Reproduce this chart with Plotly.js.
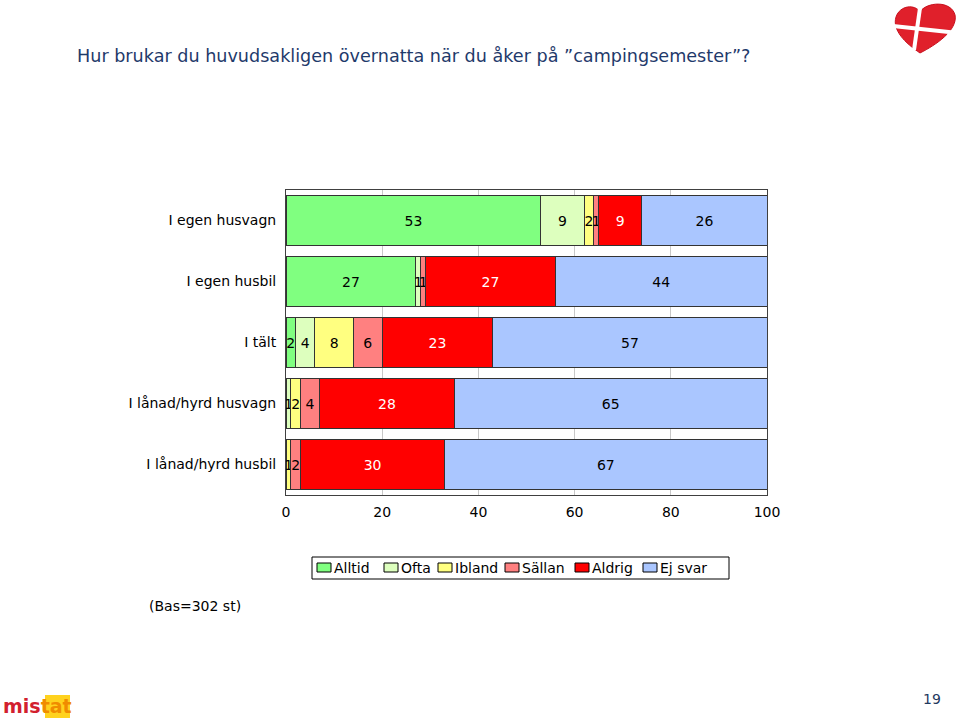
<!DOCTYPE html>
<html>
<head>
<meta charset="utf-8">
<script src="https://cdn.plot.ly/plotly-3.0.1.min.js"></script>
<style>
  html, body { margin: 0; padding: 0; background: #ffffff; }
  #chart { width: 960px; height: 724px; }
</style>
</head>
<body>
<div id="chart"></div>
<script>
// ---- data ----
const categories = ['I egen husvagn', 'I egen husbil', 'I tält', 'I lånad/hyrd husvagn', 'I lånad/hyrd husbil'];
const seriesNames = ['Alltid', 'Ofta', 'Ibland', 'Sällan', 'Aldrig', 'Ej svar'];
const alltid = [53, 27, 2, 0, 0];
const ofta   = [9, 1, 4, 1, 0];
const ibland = [2, 0, 8, 2, 1];
const sallan = [1, 1, 6, 4, 2];
const aldrig = [9, 27, 23, 28, 30];
const ejSvar = [26, 44, 57, 65, 67];
const xTicks = [0, 20, 40, 60, 80, 100];
const titleText = 'Hur brukar du huvudsakligen övernatta när du åker på ”campingsemester”?';
const baseText = '(Bas=302 st)';
const pageNo = '19';

// ---- styles ----
const seriesValues = [alltid, ofta, ibland, sallan, aldrig, ejSvar];
const colors = ['#80FF80', '#DDFFBE', '#FFFF80', '#FF8080', '#FF0000', '#AAC6FF'];
const textColors = ['#000', '#000', '#000', '#000', '#fff', '#000'];
const FONT = 'DejaVu Sans, Verdana, sans-serif';

// plot area in pixels
const L = 286, R = 767, T = 190, B = 495;
const PX = x => (x - L) / (R - L);
const PY = y => (B - y) / (B - T);

const traces = seriesNames.map((name, i) => ({
  type: 'bar',
  orientation: 'h',
  name: name,
  y: categories,
  x: seriesValues[i].map(v => v === 0 ? null : v),
  text: seriesValues[i].map(v => v > 0 ? String(v) : ''),
  textposition: 'inside',
  insidetextanchor: 'middle',
  constraintext: 'none',
  textangle: 0,
  textfont: { family: FONT, size: 14, color: textColors[i] },
  marker: { color: colors[i], line: { color: '#333333', width: 1 } },
  hoverinfo: 'skip',
  showlegend: false
}));

// manual legend (compact like the reference)
const legSqX = [317, 384, 438, 505, 575, 643];
const shapes = [];
const annotations = [];
shapes.push({ type: 'rect', xref: 'paper', yref: 'paper',
  x0: PX(312), x1: PX(729), y0: PY(579), y1: PY(557),
  line: { color: '#000', width: 1 }, fillcolor: '#fff', layer: 'above' });
seriesNames.forEach((name, i) => {
  shapes.push({ type: 'rect', xref: 'paper', yref: 'paper',
    x0: PX(legSqX[i]), x1: PX(legSqX[i] + 14), y0: PY(572), y1: PY(563),
    line: { color: '#000', width: 1 }, fillcolor: colors[i], layer: 'above' });
  annotations.push({ xref: 'paper', yref: 'paper', x: PX(legSqX[i] + 15), y: PY(568),
    xanchor: 'left', yanchor: 'middle', showarrow: false, text: name,
    font: { family: FONT, size: 14, color: '#000' } });
});

// base note and page number
annotations.push({ xref: 'paper', yref: 'paper', x: PX(195), y: PY(606),
  xanchor: 'center', yanchor: 'middle', showarrow: false, text: baseText,
  font: { family: FONT, size: 14, color: '#000' } });
annotations.push({ xref: 'paper', yref: 'paper', x: PX(932), y: PY(699),
  xanchor: 'center', yanchor: 'middle', showarrow: false, text: pageNo,
  font: { family: FONT, size: 14, color: '#1F3A5F' } });

// heart logo (top right)
function P(x, y) { return PX(x).toFixed(4) + ',' + PY(y).toFixed(4); }
const heartPath = 'M ' + P(920, 53) +
  ' C ' + P(905, 43) + ' ' + P(892, 30) + ' ' + P(896, 17) +
  ' C ' + P(900, 5) + ' ' + P(915, 4) + ' ' + P(920, 12) +
  ' C ' + P(926, 2) + ' ' + P(951, 0) + ' ' + P(955, 15) +
  ' C ' + P(958, 30) + ' ' + P(936, 45) + ' ' + P(920, 53) + ' Z';
shapes.push({ type: 'path', xref: 'paper', yref: 'paper', path: heartPath,
  fillcolor: '#E0202B', line: { color: '#C8101E', width: 1 }, layer: 'above' });
shapes.push({ type: 'line', xref: 'paper', yref: 'paper',
  x0: PX(893), y0: PY(26), x1: PX(958), y1: PY(33),
  line: { color: '#fff', width: 4 }, layer: 'above' });
shapes.push({ type: 'line', xref: 'paper', yref: 'paper',
  x0: PX(920), y0: PY(8), x1: PX(914), y1: PY(50),
  line: { color: '#fff', width: 4 }, layer: 'above' });

// mistat logo (bottom left)
shapes.push({ type: 'rect', xref: 'paper', yref: 'paper',
  x0: PX(45), x1: PX(70), y0: PY(718), y1: PY(695),
  fillcolor: '#FFD21E', line: { width: 0 }, layer: 'below' });
annotations.push({ xref: 'paper', yref: 'paper', x: PX(1), y: PY(706),
  xanchor: 'left', yanchor: 'middle', showarrow: false,
  text: '<b><span style="color:#D2202E">mis</span><span style="color:#F08C00">tat</span></b>',
  font: { family: FONT, size: 19 } });

const layout = {
  width: 960, height: 724,
  paper_bgcolor: '#ffffff', plot_bgcolor: '#ffffff',
  margin: { l: L, r: 960 - R, t: T, b: 724 - B, pad: 0 },
  barmode: 'stack',
  bargap: 0.17,
  showlegend: false,
  title: { text: titleText, xref: 'container', yref: 'container',
    x: 77 / 960, xanchor: 'left', y: 1 - 56 / 724, yanchor: 'middle',
    font: { family: FONT, size: 17.6, color: '#1F3A6B' } },
  xaxis: {
    range: [0, 100], tickvals: xTicks, ticktext: xTicks.map(String),
    showgrid: true, gridcolor: '#C8C8C8', gridwidth: 1, zeroline: false,
    showline: true, mirror: true, linecolor: '#404040', linewidth: 1,
    ticks: '', ticklabelstandoff: 4, fixedrange: true,
    tickfont: { family: FONT, size: 14, color: '#000' }
  },
  yaxis: {
    type: 'category', autorange: 'reversed', categoryorder: 'array', categoryarray: categories,
    showgrid: false, zeroline: false,
    showline: true, mirror: true, linecolor: '#404040', linewidth: 1,
    ticks: '', ticklabelstandoff: 6, fixedrange: true,
    tickfont: { family: FONT, size: 14, color: '#000' }
  },
  shapes: shapes,
  annotations: annotations
};

Plotly.newPlot('chart', traces, layout, { displayModeBar: false, staticPlot: true });
</script>
</body>
</html>
